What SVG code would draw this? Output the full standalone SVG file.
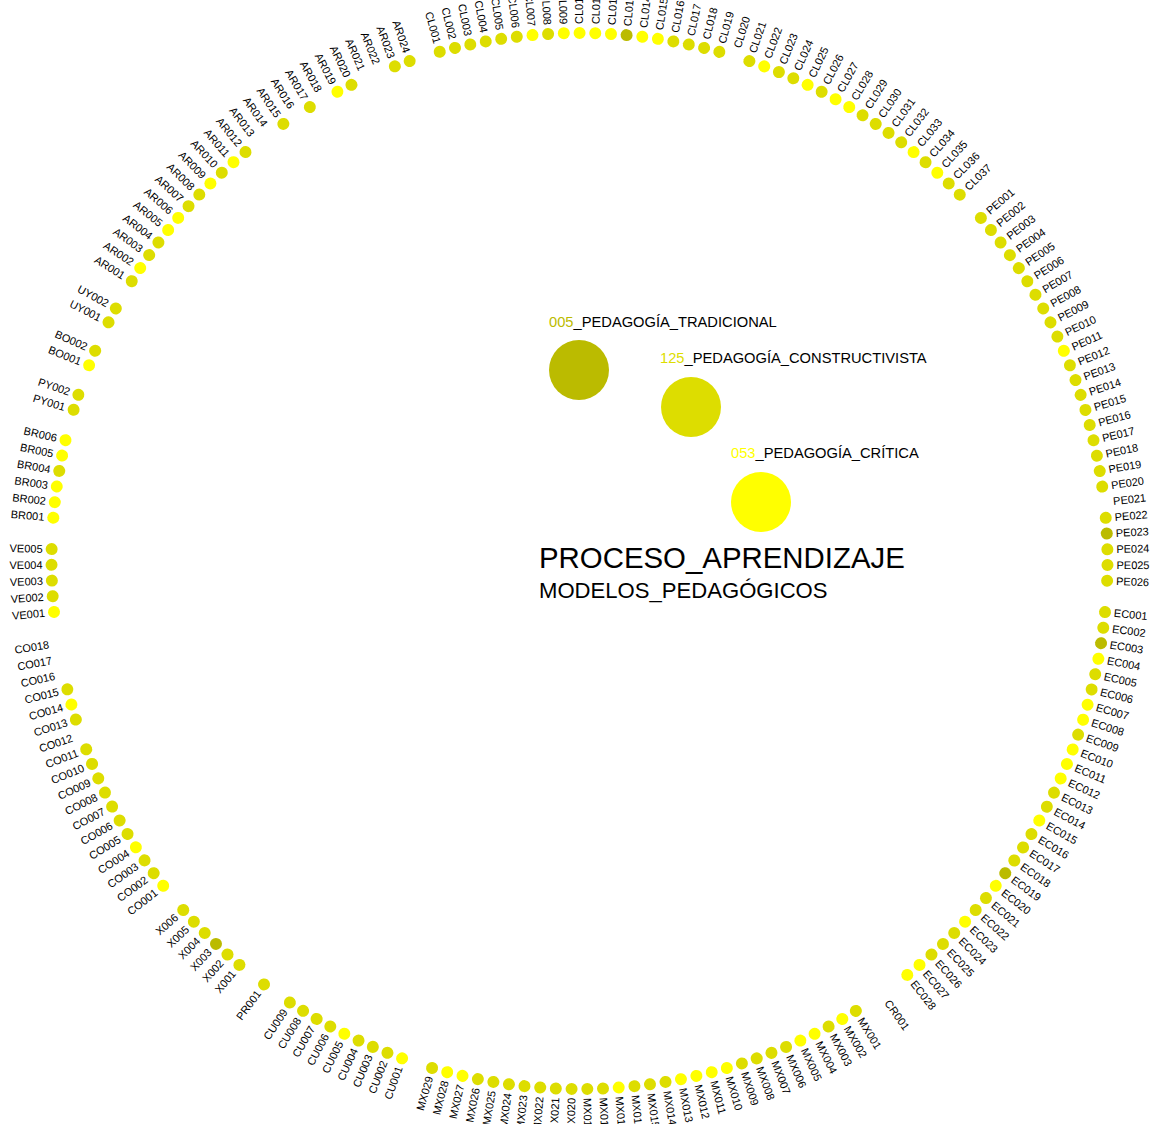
<svg xmlns="http://www.w3.org/2000/svg" width="1155" height="1124" viewBox="0 0 1155 1124">
<style>
.m{fill:#dddd00}.y{fill:#ffff00}.o{fill:#bbbb00}
.ring text{font-family:"Liberation Sans",Arial,sans-serif;font-size:11px;fill:#000}
.ring text.f{text-anchor:end}
.leg{font-family:"Liberation Sans",Arial,sans-serif;font-size:14.7px;fill:#000}
.title{font-family:"Liberation Sans",Arial,sans-serif;fill:#000}
</style>
<rect width="1155" height="1124" fill="#fff"/>
<g id="connectors"/>
<g class="ring" transform="translate(579.5,561)">
<g id="CL001" transform="rotate(-105.35)"><circle class="m" cx="528" r="6"/><text class="f" x="-537" dy=".35em" transform="rotate(180)">CL001</text></g>
<g id="CL002" transform="rotate(-103.64)"><circle class="m" cx="528" r="6"/><text class="f" x="-537" dy=".35em" transform="rotate(180)">CL002</text></g>
<g id="CL003" transform="rotate(-101.94)"><circle class="m" cx="528" r="6"/><text class="f" x="-537" dy=".35em" transform="rotate(180)">CL003</text></g>
<g id="CL004" transform="rotate(-100.23)"><circle class="m" cx="528" r="6"/><text class="f" x="-537" dy=".35em" transform="rotate(180)">CL004</text></g>
<g id="CL005" transform="rotate(-98.53)"><circle class="m" cx="528" r="6"/><text class="f" x="-537" dy=".35em" transform="rotate(180)">CL005</text></g>
<g id="CL006" transform="rotate(-96.82)"><circle class="m" cx="528" r="6"/><text class="f" x="-537" dy=".35em" transform="rotate(180)">CL006</text></g>
<g id="CL007" transform="rotate(-95.11)"><circle class="y" cx="528" r="6"/><text class="f" x="-537" dy=".35em" transform="rotate(180)">CL007</text></g>
<g id="CL008" transform="rotate(-93.41)"><circle class="m" cx="528" r="6"/><text class="f" x="-537" dy=".35em" transform="rotate(180)">CL008</text></g>
<g id="CL009" transform="rotate(-91.70)"><circle class="y" cx="528" r="6"/><text class="f" x="-537" dy=".35em" transform="rotate(180)">CL009</text></g>
<g id="CL010" transform="rotate(-89.99)"><circle class="y" cx="528" r="6"/><text x="537" dy=".35em">CL010</text></g>
<g id="CL011" transform="rotate(-88.29)"><circle class="y" cx="528" r="6"/><text x="537" dy=".35em">CL011</text></g>
<g id="CL012" transform="rotate(-86.58)"><circle class="y" cx="528" r="6"/><text x="537" dy=".35em">CL012</text></g>
<g id="CL013" transform="rotate(-84.88)"><circle class="o" cx="528" r="6"/><text x="537" dy=".35em">CL013</text></g>
<g id="CL014" transform="rotate(-83.17)"><circle class="y" cx="528" r="6"/><text x="537" dy=".35em">CL014</text></g>
<g id="CL015" transform="rotate(-81.46)"><circle class="y" cx="528" r="6"/><text x="537" dy=".35em">CL015</text></g>
<g id="CL016" transform="rotate(-79.76)"><circle class="m" cx="528" r="6"/><text x="537" dy=".35em">CL016</text></g>
<g id="CL017" transform="rotate(-78.05)"><circle class="m" cx="528" r="6"/><text x="537" dy=".35em">CL017</text></g>
<g id="CL018" transform="rotate(-76.35)"><circle class="m" cx="528" r="6"/><text x="537" dy=".35em">CL018</text></g>
<g id="CL019" transform="rotate(-74.64)"><circle class="m" cx="528" r="6"/><text x="537" dy=".35em">CL019</text></g>
<g id="CL020" transform="rotate(-72.93)"><text x="537" dy=".35em">CL020</text></g>
<g id="CL021" transform="rotate(-71.23)"><circle class="m" cx="528" r="6"/><text x="537" dy=".35em">CL021</text></g>
<g id="CL022" transform="rotate(-69.52)"><circle class="y" cx="528" r="6"/><text x="537" dy=".35em">CL022</text></g>
<g id="CL023" transform="rotate(-67.81)"><circle class="m" cx="528" r="6"/><text x="537" dy=".35em">CL023</text></g>
<g id="CL024" transform="rotate(-66.11)"><circle class="m" cx="528" r="6"/><text x="537" dy=".35em">CL024</text></g>
<g id="CL025" transform="rotate(-64.40)"><circle class="y" cx="528" r="6"/><text x="537" dy=".35em">CL025</text></g>
<g id="CL026" transform="rotate(-62.70)"><circle class="m" cx="528" r="6"/><text x="537" dy=".35em">CL026</text></g>
<g id="CL027" transform="rotate(-60.99)"><circle class="y" cx="528" r="6"/><text x="537" dy=".35em">CL027</text></g>
<g id="CL028" transform="rotate(-59.28)"><circle class="y" cx="528" r="6"/><text x="537" dy=".35em">CL028</text></g>
<g id="CL029" transform="rotate(-57.58)"><circle class="m" cx="528" r="6"/><text x="537" dy=".35em">CL029</text></g>
<g id="CL030" transform="rotate(-55.87)"><circle class="m" cx="528" r="6"/><text x="537" dy=".35em">CL030</text></g>
<g id="CL031" transform="rotate(-54.17)"><circle class="m" cx="528" r="6"/><text x="537" dy=".35em">CL031</text></g>
<g id="CL032" transform="rotate(-52.46)"><circle class="m" cx="528" r="6"/><text x="537" dy=".35em">CL032</text></g>
<g id="CL033" transform="rotate(-50.75)"><circle class="y" cx="528" r="6"/><text x="537" dy=".35em">CL033</text></g>
<g id="CL034" transform="rotate(-49.05)"><circle class="m" cx="528" r="6"/><text x="537" dy=".35em">CL034</text></g>
<g id="CL035" transform="rotate(-47.34)"><circle class="y" cx="528" r="6"/><text x="537" dy=".35em">CL035</text></g>
<g id="CL036" transform="rotate(-45.63)"><circle class="m" cx="528" r="6"/><text x="537" dy=".35em">CL036</text></g>
<g id="CL037" transform="rotate(-43.93)"><circle class="m" cx="528" r="6"/><text x="537" dy=".35em">CL037</text></g>
<g id="PE001" transform="rotate(-40.52)"><circle class="m" cx="528" r="6"/><text x="537" dy=".35em">PE001</text></g>
<g id="PE002" transform="rotate(-38.81)"><circle class="m" cx="528" r="6"/><text x="537" dy=".35em">PE002</text></g>
<g id="PE003" transform="rotate(-37.10)"><circle class="m" cx="528" r="6"/><text x="537" dy=".35em">PE003</text></g>
<g id="PE004" transform="rotate(-35.40)"><circle class="m" cx="528" r="6"/><text x="537" dy=".35em">PE004</text></g>
<g id="PE005" transform="rotate(-33.69)"><circle class="m" cx="528" r="6"/><text x="537" dy=".35em">PE005</text></g>
<g id="PE006" transform="rotate(-31.99)"><circle class="m" cx="528" r="6"/><text x="537" dy=".35em">PE006</text></g>
<g id="PE007" transform="rotate(-30.28)"><circle class="m" cx="528" r="6"/><text x="537" dy=".35em">PE007</text></g>
<g id="PE008" transform="rotate(-28.57)"><circle class="m" cx="528" r="6"/><text x="537" dy=".35em">PE008</text></g>
<g id="PE009" transform="rotate(-26.87)"><circle class="m" cx="528" r="6"/><text x="537" dy=".35em">PE009</text></g>
<g id="PE010" transform="rotate(-25.16)"><circle class="m" cx="528" r="6"/><text x="537" dy=".35em">PE010</text></g>
<g id="PE011" transform="rotate(-23.46)"><circle class="y" cx="528" r="6"/><text x="537" dy=".35em">PE011</text></g>
<g id="PE012" transform="rotate(-21.75)"><circle class="m" cx="528" r="6"/><text x="537" dy=".35em">PE012</text></g>
<g id="PE013" transform="rotate(-20.04)"><circle class="m" cx="528" r="6"/><text x="537" dy=".35em">PE013</text></g>
<g id="PE014" transform="rotate(-18.34)"><circle class="m" cx="528" r="6"/><text x="537" dy=".35em">PE014</text></g>
<g id="PE015" transform="rotate(-16.63)"><circle class="m" cx="528" r="6"/><text x="537" dy=".35em">PE015</text></g>
<g id="PE016" transform="rotate(-14.92)"><circle class="m" cx="528" r="6"/><text x="537" dy=".35em">PE016</text></g>
<g id="PE017" transform="rotate(-13.22)"><circle class="m" cx="528" r="6"/><text x="537" dy=".35em">PE017</text></g>
<g id="PE018" transform="rotate(-11.51)"><circle class="m" cx="528" r="6"/><text x="537" dy=".35em">PE018</text></g>
<g id="PE019" transform="rotate(-9.81)"><circle class="m" cx="528" r="6"/><text x="537" dy=".35em">PE019</text></g>
<g id="PE020" transform="rotate(-8.10)"><circle class="m" cx="528" r="6"/><text x="537" dy=".35em">PE020</text></g>
<g id="PE021" transform="rotate(-6.39)"><text x="537" dy=".35em">PE021</text></g>
<g id="PE022" transform="rotate(-4.69)"><circle class="m" cx="528" r="6"/><text x="537" dy=".35em">PE022</text></g>
<g id="PE023" transform="rotate(-2.98)"><circle class="o" cx="528" r="6"/><text x="537" dy=".35em">PE023</text></g>
<g id="PE024" transform="rotate(-1.27)"><circle class="m" cx="528" r="6"/><text x="537" dy=".35em">PE024</text></g>
<g id="PE025" transform="rotate(0.43)"><circle class="m" cx="528" r="6"/><text x="537" dy=".35em">PE025</text></g>
<g id="PE026" transform="rotate(2.14)"><circle class="m" cx="528" r="6"/><text x="537" dy=".35em">PE026</text></g>
<g id="EC001" transform="rotate(5.55)"><circle class="m" cx="528" r="6"/><text x="537" dy=".35em">EC001</text></g>
<g id="EC002" transform="rotate(7.26)"><circle class="m" cx="528" r="6"/><text x="537" dy=".35em">EC002</text></g>
<g id="EC003" transform="rotate(8.96)"><circle class="o" cx="528" r="6"/><text x="537" dy=".35em">EC003</text></g>
<g id="EC004" transform="rotate(10.67)"><circle class="y" cx="528" r="6"/><text x="537" dy=".35em">EC004</text></g>
<g id="EC005" transform="rotate(12.38)"><circle class="m" cx="528" r="6"/><text x="537" dy=".35em">EC005</text></g>
<g id="EC006" transform="rotate(14.08)"><circle class="m" cx="528" r="6"/><text x="537" dy=".35em">EC006</text></g>
<g id="EC007" transform="rotate(15.79)"><circle class="y" cx="528" r="6"/><text x="537" dy=".35em">EC007</text></g>
<g id="EC008" transform="rotate(17.49)"><circle class="y" cx="528" r="6"/><text x="537" dy=".35em">EC008</text></g>
<g id="EC009" transform="rotate(19.20)"><circle class="m" cx="528" r="6"/><text x="537" dy=".35em">EC009</text></g>
<g id="EC010" transform="rotate(20.91)"><circle class="y" cx="528" r="6"/><text x="537" dy=".35em">EC010</text></g>
<g id="EC011" transform="rotate(22.61)"><circle class="y" cx="528" r="6"/><text x="537" dy=".35em">EC011</text></g>
<g id="EC012" transform="rotate(24.32)"><circle class="y" cx="528" r="6"/><text x="537" dy=".35em">EC012</text></g>
<g id="EC013" transform="rotate(26.02)"><circle class="m" cx="528" r="6"/><text x="537" dy=".35em">EC013</text></g>
<g id="EC014" transform="rotate(27.73)"><circle class="m" cx="528" r="6"/><text x="537" dy=".35em">EC014</text></g>
<g id="EC015" transform="rotate(29.44)"><circle class="y" cx="528" r="6"/><text x="537" dy=".35em">EC015</text></g>
<g id="EC016" transform="rotate(31.14)"><circle class="m" cx="528" r="6"/><text x="537" dy=".35em">EC016</text></g>
<g id="EC017" transform="rotate(32.85)"><circle class="m" cx="528" r="6"/><text x="537" dy=".35em">EC017</text></g>
<g id="EC018" transform="rotate(34.56)"><circle class="m" cx="528" r="6"/><text x="537" dy=".35em">EC018</text></g>
<g id="EC019" transform="rotate(36.26)"><circle class="o" cx="528" r="6"/><text x="537" dy=".35em">EC019</text></g>
<g id="EC020" transform="rotate(37.97)"><circle class="y" cx="528" r="6"/><text x="537" dy=".35em">EC020</text></g>
<g id="EC021" transform="rotate(39.67)"><circle class="m" cx="528" r="6"/><text x="537" dy=".35em">EC021</text></g>
<g id="EC022" transform="rotate(41.38)"><circle class="m" cx="528" r="6"/><text x="537" dy=".35em">EC022</text></g>
<g id="EC023" transform="rotate(43.09)"><circle class="y" cx="528" r="6"/><text x="537" dy=".35em">EC023</text></g>
<g id="EC024" transform="rotate(44.79)"><circle class="m" cx="528" r="6"/><text x="537" dy=".35em">EC024</text></g>
<g id="EC025" transform="rotate(46.50)"><circle class="m" cx="528" r="6"/><text x="537" dy=".35em">EC025</text></g>
<g id="EC026" transform="rotate(48.20)"><circle class="m" cx="528" r="6"/><text x="537" dy=".35em">EC026</text></g>
<g id="EC027" transform="rotate(49.91)"><circle class="y" cx="528" r="6"/><text x="537" dy=".35em">EC027</text></g>
<g id="EC028" transform="rotate(51.62)"><circle class="y" cx="528" r="6"/><text x="537" dy=".35em">EC028</text></g>
<g id="CR001" transform="rotate(55.03)"><text x="537" dy=".35em">CR001</text></g>
<g id="MX001" transform="rotate(58.44)"><circle class="m" cx="528" r="6"/><text x="537" dy=".35em">MX001</text></g>
<g id="MX002" transform="rotate(60.15)"><circle class="y" cx="528" r="6"/><text x="537" dy=".35em">MX002</text></g>
<g id="MX003" transform="rotate(61.85)"><circle class="m" cx="528" r="6"/><text x="537" dy=".35em">MX003</text></g>
<g id="MX004" transform="rotate(63.56)"><circle class="y" cx="528" r="6"/><text x="537" dy=".35em">MX004</text></g>
<g id="MX005" transform="rotate(65.27)"><circle class="y" cx="528" r="6"/><text x="537" dy=".35em">MX005</text></g>
<g id="MX006" transform="rotate(66.97)"><circle class="m" cx="528" r="6"/><text x="537" dy=".35em">MX006</text></g>
<g id="MX007" transform="rotate(68.68)"><circle class="m" cx="528" r="6"/><text x="537" dy=".35em">MX007</text></g>
<g id="MX008" transform="rotate(70.39)"><circle class="m" cx="528" r="6"/><text x="537" dy=".35em">MX008</text></g>
<g id="MX009" transform="rotate(72.09)"><circle class="m" cx="528" r="6"/><text x="537" dy=".35em">MX009</text></g>
<g id="MX010" transform="rotate(73.80)"><circle class="y" cx="528" r="6"/><text x="537" dy=".35em">MX010</text></g>
<g id="MX011" transform="rotate(75.50)"><circle class="y" cx="528" r="6"/><text x="537" dy=".35em">MX011</text></g>
<g id="MX012" transform="rotate(77.21)"><circle class="y" cx="528" r="6"/><text x="537" dy=".35em">MX012</text></g>
<g id="MX013" transform="rotate(78.92)"><circle class="y" cx="528" r="6"/><text x="537" dy=".35em">MX013</text></g>
<g id="MX014" transform="rotate(80.62)"><circle class="m" cx="528" r="6"/><text x="537" dy=".35em">MX014</text></g>
<g id="MX015" transform="rotate(82.33)"><circle class="m" cx="528" r="6"/><text x="537" dy=".35em">MX015</text></g>
<g id="MX016" transform="rotate(84.03)"><circle class="m" cx="528" r="6"/><text x="537" dy=".35em">MX016</text></g>
<g id="MX017" transform="rotate(85.74)"><circle class="y" cx="528" r="6"/><text x="537" dy=".35em">MX017</text></g>
<g id="MX018" transform="rotate(87.45)"><circle class="m" cx="528" r="6"/><text x="537" dy=".35em">MX018</text></g>
<g id="MX019" transform="rotate(89.15)"><circle class="m" cx="528" r="6"/><text x="537" dy=".35em">MX019</text></g>
<g id="MX020" transform="rotate(90.86)"><circle class="m" cx="528" r="6"/><text class="f" x="-537" dy=".35em" transform="rotate(180)">MX020</text></g>
<g id="MX021" transform="rotate(92.57)"><circle class="m" cx="528" r="6"/><text class="f" x="-537" dy=".35em" transform="rotate(180)">MX021</text></g>
<g id="MX022" transform="rotate(94.27)"><circle class="m" cx="528" r="6"/><text class="f" x="-537" dy=".35em" transform="rotate(180)">MX022</text></g>
<g id="MX023" transform="rotate(95.98)"><circle class="m" cx="528" r="6"/><text class="f" x="-537" dy=".35em" transform="rotate(180)">MX023</text></g>
<g id="MX024" transform="rotate(97.68)"><circle class="m" cx="528" r="6"/><text class="f" x="-537" dy=".35em" transform="rotate(180)">MX024</text></g>
<g id="MX025" transform="rotate(99.39)"><circle class="m" cx="528" r="6"/><text class="f" x="-537" dy=".35em" transform="rotate(180)">MX025</text></g>
<g id="MX026" transform="rotate(101.10)"><circle class="m" cx="528" r="6"/><text class="f" x="-537" dy=".35em" transform="rotate(180)">MX026</text></g>
<g id="MX027" transform="rotate(102.80)"><circle class="y" cx="528" r="6"/><text class="f" x="-537" dy=".35em" transform="rotate(180)">MX027</text></g>
<g id="MX028" transform="rotate(104.51)"><circle class="y" cx="528" r="6"/><text class="f" x="-537" dy=".35em" transform="rotate(180)">MX028</text></g>
<g id="MX029" transform="rotate(106.21)"><circle class="m" cx="528" r="6"/><text class="f" x="-537" dy=".35em" transform="rotate(180)">MX029</text></g>
<g id="CU001" transform="rotate(109.63)"><circle class="y" cx="528" r="6"/><text class="f" x="-537" dy=".35em" transform="rotate(180)">CU001</text></g>
<g id="CU002" transform="rotate(111.33)"><circle class="m" cx="528" r="6"/><text class="f" x="-537" dy=".35em" transform="rotate(180)">CU002</text></g>
<g id="CU003" transform="rotate(113.04)"><circle class="m" cx="528" r="6"/><text class="f" x="-537" dy=".35em" transform="rotate(180)">CU003</text></g>
<g id="CU004" transform="rotate(114.74)"><circle class="m" cx="528" r="6"/><text class="f" x="-537" dy=".35em" transform="rotate(180)">CU004</text></g>
<g id="CU005" transform="rotate(116.45)"><circle class="y" cx="528" r="6"/><text class="f" x="-537" dy=".35em" transform="rotate(180)">CU005</text></g>
<g id="CU006" transform="rotate(118.16)"><circle class="m" cx="528" r="6"/><text class="f" x="-537" dy=".35em" transform="rotate(180)">CU006</text></g>
<g id="CU007" transform="rotate(119.86)"><circle class="m" cx="528" r="6"/><text class="f" x="-537" dy=".35em" transform="rotate(180)">CU007</text></g>
<g id="CU008" transform="rotate(121.57)"><circle class="m" cx="528" r="6"/><text class="f" x="-537" dy=".35em" transform="rotate(180)">CU008</text></g>
<g id="CU009" transform="rotate(123.27)"><circle class="m" cx="528" r="6"/><text class="f" x="-537" dy=".35em" transform="rotate(180)">CU009</text></g>
<g id="PR001" transform="rotate(126.69)"><circle class="m" cx="528" r="6"/><text class="f" x="-537" dy=".35em" transform="rotate(180)">PR001</text></g>
<g id="X001" transform="rotate(130.10)"><circle class="m" cx="528" r="6"/><text class="f" x="-537" dy=".35em" transform="rotate(180)">X001</text></g>
<g id="X002" transform="rotate(131.81)"><circle class="m" cx="528" r="6"/><text class="f" x="-537" dy=".35em" transform="rotate(180)">X002</text></g>
<g id="X003" transform="rotate(133.51)"><circle class="o" cx="528" r="6"/><text class="f" x="-537" dy=".35em" transform="rotate(180)">X003</text></g>
<g id="X004" transform="rotate(135.22)"><circle class="m" cx="528" r="6"/><text class="f" x="-537" dy=".35em" transform="rotate(180)">X004</text></g>
<g id="X005" transform="rotate(136.92)"><circle class="m" cx="528" r="6"/><text class="f" x="-537" dy=".35em" transform="rotate(180)">X005</text></g>
<g id="X006" transform="rotate(138.63)"><circle class="m" cx="528" r="6"/><text class="f" x="-537" dy=".35em" transform="rotate(180)">X006</text></g>
<g id="CO001" transform="rotate(142.04)"><circle class="y" cx="528" r="6"/><text class="f" x="-537" dy=".35em" transform="rotate(180)">CO001</text></g>
<g id="CO002" transform="rotate(143.75)"><circle class="m" cx="528" r="6"/><text class="f" x="-537" dy=".35em" transform="rotate(180)">CO002</text></g>
<g id="CO003" transform="rotate(145.46)"><circle class="m" cx="528" r="6"/><text class="f" x="-537" dy=".35em" transform="rotate(180)">CO003</text></g>
<g id="CO004" transform="rotate(147.16)"><circle class="y" cx="528" r="6"/><text class="f" x="-537" dy=".35em" transform="rotate(180)">CO004</text></g>
<g id="CO005" transform="rotate(148.87)"><circle class="m" cx="528" r="6"/><text class="f" x="-537" dy=".35em" transform="rotate(180)">CO005</text></g>
<g id="CO006" transform="rotate(150.57)"><circle class="m" cx="528" r="6"/><text class="f" x="-537" dy=".35em" transform="rotate(180)">CO006</text></g>
<g id="CO007" transform="rotate(152.28)"><circle class="m" cx="528" r="6"/><text class="f" x="-537" dy=".35em" transform="rotate(180)">CO007</text></g>
<g id="CO008" transform="rotate(153.99)"><circle class="m" cx="528" r="6"/><text class="f" x="-537" dy=".35em" transform="rotate(180)">CO008</text></g>
<g id="CO009" transform="rotate(155.69)"><circle class="m" cx="528" r="6"/><text class="f" x="-537" dy=".35em" transform="rotate(180)">CO009</text></g>
<g id="CO010" transform="rotate(157.40)"><circle class="m" cx="528" r="6"/><text class="f" x="-537" dy=".35em" transform="rotate(180)">CO010</text></g>
<g id="CO011" transform="rotate(159.11)"><circle class="m" cx="528" r="6"/><text class="f" x="-537" dy=".35em" transform="rotate(180)">CO011</text></g>
<g id="CO012" transform="rotate(160.81)"><text class="f" x="-537" dy=".35em" transform="rotate(180)">CO012</text></g>
<g id="CO013" transform="rotate(162.52)"><circle class="m" cx="528" r="6"/><text class="f" x="-537" dy=".35em" transform="rotate(180)">CO013</text></g>
<g id="CO014" transform="rotate(164.22)"><circle class="y" cx="528" r="6"/><text class="f" x="-537" dy=".35em" transform="rotate(180)">CO014</text></g>
<g id="CO015" transform="rotate(165.93)"><circle class="m" cx="528" r="6"/><text class="f" x="-537" dy=".35em" transform="rotate(180)">CO015</text></g>
<g id="CO016" transform="rotate(167.64)"><text class="f" x="-537" dy=".35em" transform="rotate(180)">CO016</text></g>
<g id="CO017" transform="rotate(169.34)"><text class="f" x="-537" dy=".35em" transform="rotate(180)">CO017</text></g>
<g id="CO018" transform="rotate(171.05)"><text class="f" x="-537" dy=".35em" transform="rotate(180)">CO018</text></g>
<g id="VE001" transform="rotate(174.46)"><circle class="y" cx="528" r="6"/><text class="f" x="-537" dy=".35em" transform="rotate(180)">VE001</text></g>
<g id="VE002" transform="rotate(176.17)"><circle class="m" cx="528" r="6"/><text class="f" x="-537" dy=".35em" transform="rotate(180)">VE002</text></g>
<g id="VE003" transform="rotate(177.87)"><circle class="m" cx="528" r="6"/><text class="f" x="-537" dy=".35em" transform="rotate(180)">VE003</text></g>
<g id="VE004" transform="rotate(179.58)"><circle class="m" cx="528" r="6"/><text class="f" x="-537" dy=".35em" transform="rotate(180)">VE004</text></g>
<g id="VE005" transform="rotate(181.29)"><circle class="m" cx="528" r="6"/><text class="f" x="-537" dy=".35em" transform="rotate(180)">VE005</text></g>
<g id="BR001" transform="rotate(184.70)"><circle class="y" cx="528" r="6"/><text class="f" x="-537" dy=".35em" transform="rotate(180)">BR001</text></g>
<g id="BR002" transform="rotate(186.40)"><circle class="y" cx="528" r="6"/><text class="f" x="-537" dy=".35em" transform="rotate(180)">BR002</text></g>
<g id="BR003" transform="rotate(188.11)"><circle class="y" cx="528" r="6"/><text class="f" x="-537" dy=".35em" transform="rotate(180)">BR003</text></g>
<g id="BR004" transform="rotate(189.82)"><circle class="m" cx="528" r="6"/><text class="f" x="-537" dy=".35em" transform="rotate(180)">BR004</text></g>
<g id="BR005" transform="rotate(191.52)"><circle class="y" cx="528" r="6"/><text class="f" x="-537" dy=".35em" transform="rotate(180)">BR005</text></g>
<g id="BR006" transform="rotate(193.23)"><circle class="y" cx="528" r="6"/><text class="f" x="-537" dy=".35em" transform="rotate(180)">BR006</text></g>
<g id="PY001" transform="rotate(196.64)"><circle class="m" cx="528" r="6"/><text class="f" x="-537" dy=".35em" transform="rotate(180)">PY001</text></g>
<g id="PY002" transform="rotate(198.35)"><circle class="m" cx="528" r="6"/><text class="f" x="-537" dy=".35em" transform="rotate(180)">PY002</text></g>
<g id="BO001" transform="rotate(201.76)"><circle class="y" cx="528" r="6"/><text class="f" x="-537" dy=".35em" transform="rotate(180)">BO001</text></g>
<g id="BO002" transform="rotate(203.47)"><circle class="m" cx="528" r="6"/><text class="f" x="-537" dy=".35em" transform="rotate(180)">BO002</text></g>
<g id="UY001" transform="rotate(206.88)"><circle class="m" cx="528" r="6"/><text class="f" x="-537" dy=".35em" transform="rotate(180)">UY001</text></g>
<g id="UY002" transform="rotate(208.58)"><circle class="m" cx="528" r="6"/><text class="f" x="-537" dy=".35em" transform="rotate(180)">UY002</text></g>
<g id="AR001" transform="rotate(212.00)"><circle class="m" cx="528" r="6"/><text class="f" x="-537" dy=".35em" transform="rotate(180)">AR001</text></g>
<g id="AR002" transform="rotate(213.70)"><circle class="y" cx="528" r="6"/><text class="f" x="-537" dy=".35em" transform="rotate(180)">AR002</text></g>
<g id="AR003" transform="rotate(215.41)"><circle class="m" cx="528" r="6"/><text class="f" x="-537" dy=".35em" transform="rotate(180)">AR003</text></g>
<g id="AR004" transform="rotate(217.11)"><circle class="m" cx="528" r="6"/><text class="f" x="-537" dy=".35em" transform="rotate(180)">AR004</text></g>
<g id="AR005" transform="rotate(218.82)"><circle class="y" cx="528" r="6"/><text class="f" x="-537" dy=".35em" transform="rotate(180)">AR005</text></g>
<g id="AR006" transform="rotate(220.53)"><circle class="y" cx="528" r="6"/><text class="f" x="-537" dy=".35em" transform="rotate(180)">AR006</text></g>
<g id="AR007" transform="rotate(222.23)"><circle class="m" cx="528" r="6"/><text class="f" x="-537" dy=".35em" transform="rotate(180)">AR007</text></g>
<g id="AR008" transform="rotate(223.94)"><circle class="m" cx="528" r="6"/><text class="f" x="-537" dy=".35em" transform="rotate(180)">AR008</text></g>
<g id="AR009" transform="rotate(225.65)"><circle class="y" cx="528" r="6"/><text class="f" x="-537" dy=".35em" transform="rotate(180)">AR009</text></g>
<g id="AR010" transform="rotate(227.35)"><circle class="m" cx="528" r="6"/><text class="f" x="-537" dy=".35em" transform="rotate(180)">AR010</text></g>
<g id="AR011" transform="rotate(229.06)"><circle class="y" cx="528" r="6"/><text class="f" x="-537" dy=".35em" transform="rotate(180)">AR011</text></g>
<g id="AR012" transform="rotate(230.76)"><circle class="m" cx="528" r="6"/><text class="f" x="-537" dy=".35em" transform="rotate(180)">AR012</text></g>
<g id="AR013" transform="rotate(232.47)"><text class="f" x="-537" dy=".35em" transform="rotate(180)">AR013</text></g>
<g id="AR014" transform="rotate(234.18)"><text class="f" x="-537" dy=".35em" transform="rotate(180)">AR014</text></g>
<g id="AR015" transform="rotate(235.88)"><circle class="m" cx="528" r="6"/><text class="f" x="-537" dy=".35em" transform="rotate(180)">AR015</text></g>
<g id="AR016" transform="rotate(237.59)"><text class="f" x="-537" dy=".35em" transform="rotate(180)">AR016</text></g>
<g id="AR017" transform="rotate(239.29)"><circle class="m" cx="528" r="6"/><text class="f" x="-537" dy=".35em" transform="rotate(180)">AR017</text></g>
<g id="AR018" transform="rotate(241.00)"><text class="f" x="-537" dy=".35em" transform="rotate(180)">AR018</text></g>
<g id="AR019" transform="rotate(242.71)"><circle class="y" cx="528" r="6"/><text class="f" x="-537" dy=".35em" transform="rotate(180)">AR019</text></g>
<g id="AR020" transform="rotate(244.41)"><circle class="m" cx="528" r="6"/><text class="f" x="-537" dy=".35em" transform="rotate(180)">AR020</text></g>
<g id="AR021" transform="rotate(246.12)"><text class="f" x="-537" dy=".35em" transform="rotate(180)">AR021</text></g>
<g id="AR022" transform="rotate(247.82)"><text class="f" x="-537" dy=".35em" transform="rotate(180)">AR022</text></g>
<g id="AR023" transform="rotate(249.53)"><circle class="m" cx="528" r="6"/><text class="f" x="-537" dy=".35em" transform="rotate(180)">AR023</text></g>
<g id="AR024" transform="rotate(251.24)"><circle class="m" cx="528" r="6"/><text class="f" x="-537" dy=".35em" transform="rotate(180)">AR024</text></g>
</g>
<g id="legend-tradicional">
<text class="leg" x="549" y="327"><tspan class="o">005</tspan>_PEDAGOGÍA_TRADICIONAL</text>
<circle class="o" cx="579" cy="370" r="30"/>
</g>
<g id="legend-constructivista">
<text class="leg" x="660" y="363"><tspan class="m">125</tspan>_PEDAGOGÍA_CONSTRUCTIVISTA</text>
<circle class="m" cx="691" cy="407" r="30"/>
</g>
<g id="legend-critica">
<text class="leg" x="731" y="458"><tspan class="y">053</tspan>_PEDAGOGÍA_CRÍTICA</text>
<circle class="y" cx="761" cy="502" r="30"/>
</g>
<g id="title">
<text class="title" x="539" y="568" font-size="29.4">PROCESO_APRENDIZAJE</text>
<text class="title" x="539" y="598" font-size="22.1">MODELOS_PEDAGÓGICOS</text>
</g>
</svg>
